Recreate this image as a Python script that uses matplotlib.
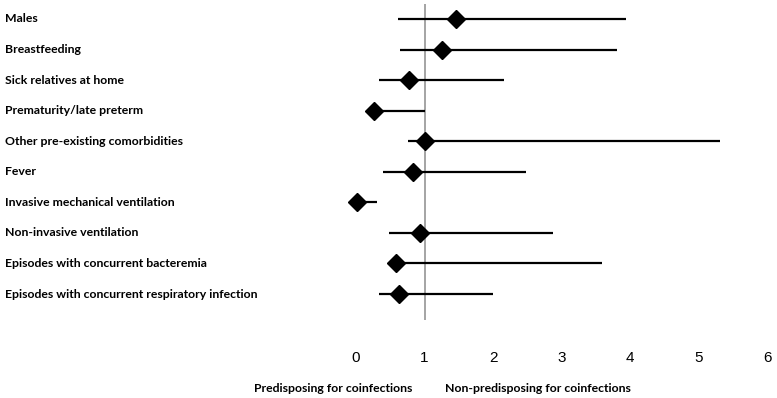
import matplotlib.pyplot as plt
from matplotlib.transforms import blended_transform_factory

# Odds ratios with 95% CI
factors = [
    "Males",
    "Breastfeeding",
    "Sick relatives at home",
    "Prematurity/late preterm",
    "Other pre-existing comorbidities",
    "Fever",
    "Invasive mechanical ventilation",
    "Non-invasive ventilation",
    "Episodes with concurrent bacteremia",
    "Episodes with concurrent respiratory infection",
]
odds_ratio = [1.46, 1.26, 0.77, 0.27, 1.00, 0.83, 0.02, 0.94, 0.58, 0.63]
ci_low = [0.61, 0.64, 0.34, 0.20, 0.76, 0.40, 0.00, 0.48, 0.55, 0.34]
ci_high = [3.94, 3.81, 2.16, 1.00, 5.31, 2.48, 0.31, 2.87, 3.59, 2.00]
x_ticks = [0, 1, 2, 3, 4, 5, 6]

W, H = 777, 398
fig = plt.figure(figsize=(W / 100, H / 100), dpi=100)
ax = fig.add_axes([356 / W, 1 - 320 / H, (767 - 356) / W, (320 - 4) / H])

rows = list(range(len(factors)))
for y, lo, hi, orv in zip(rows, ci_low, ci_high, odds_ratio):
    ax.plot([lo, hi], [y, y], color="black", lw=1.6, solid_capstyle="butt", clip_on=False)
    ax.plot(orv, y, marker="D", color="black", markersize=9.5, clip_on=False, zorder=3)

ax.axvline(1, color="#8c8c8c", lw=1.1, zorder=1)

ax.set_xlim(0, 6)
ax.set_ylim(len(factors) - 1 + 0.85, -0.49)
ax.set_yticks([])
ax.set_xticks(x_ticks)
ax.set_xticklabels([str(t) for t in x_ticks], fontname="Liberation Sans", fontsize=11)
ax.tick_params(axis="x", length=0, pad=22)
for s in ax.spines.values():
    s.set_visible(False)

trans = blended_transform_factory(fig.transFigure, ax.transData)
for y, name in zip(rows, factors):
    ax.text(5 / W, y, name, transform=trans, ha="left", va="center",
            fontname="Lato", fontweight="bold", fontsize=8.8)

fig.text(412 / W, 1 - 388 / H, "Predisposing for coinfections", ha="right", va="center",
         fontname="Lato", fontweight="bold", fontsize=8.8)
fig.text(445 / W, 1 - 388 / H, "Non-predisposing for coinfections", ha="left", va="center",
         fontname="Lato", fontweight="bold", fontsize=8.8)

fig.savefig("out.png", dpi=100)
